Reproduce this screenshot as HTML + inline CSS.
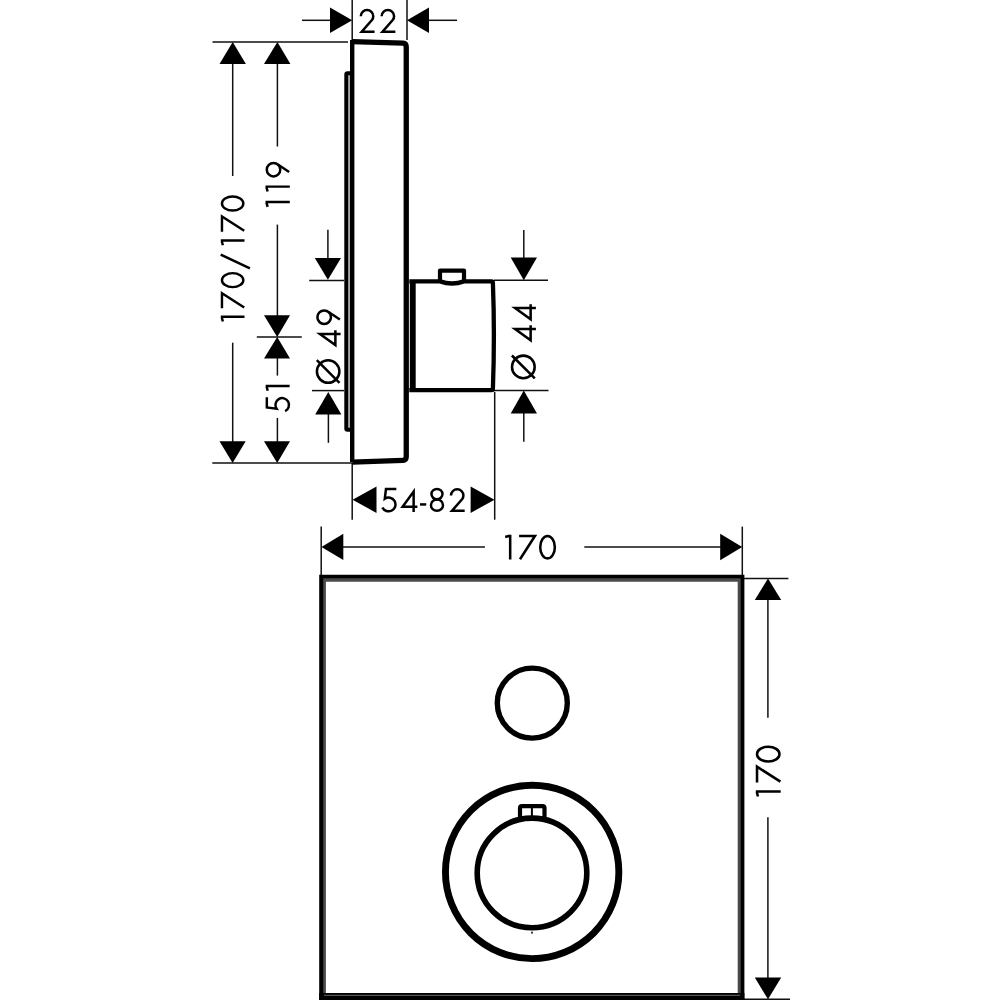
<!DOCTYPE html>
<html><head><meta charset="utf-8">
<style>
html,body{margin:0;padding:0;background:#fff;width:1000px;height:1000px;overflow:hidden}
svg{display:block}
text{font-family:"Liberation Sans",sans-serif;fill:#111}
</style></head>
<body>
<svg width="1000" height="1000" viewBox="0 0 1000 1000">
<rect width="1000" height="1000" fill="#fff"/>
<!-- thin dimension lines -->
<g stroke="#111" stroke-width="1.5" fill="none">
  <!-- 22 -->
  <line x1="352.2" y1="0" x2="352.2" y2="41"/>
  <line x1="407" y1="0" x2="407" y2="40"/>
  <line x1="302" y1="20.3" x2="331" y2="20.3"/>
  <line x1="428" y1="20.3" x2="457" y2="20.3"/>
  <!-- top & bottom extension -->
  <line x1="212.5" y1="42" x2="348" y2="42"/>
  <line x1="212.3" y1="463" x2="352" y2="463"/>
  <!-- 170/170 -->
  <line x1="232.7" y1="63" x2="232.7" y2="176"/>
  <line x1="232.7" y1="342.7" x2="232.7" y2="442"/>
  <!-- 119 / 51 -->
  <line x1="277.4" y1="63" x2="277.4" y2="146.5"/>
  <line x1="277.4" y1="224.6" x2="277.4" y2="316"/>
  <line x1="277.4" y1="358" x2="277.4" y2="375.6"/>
  <line x1="277.4" y1="418" x2="277.4" y2="442"/>
  <line x1="256.8" y1="337" x2="301.8" y2="337"/>
  <!-- O49 -->
  <line x1="327.9" y1="229.7" x2="327.9" y2="259"/>
  <line x1="328.4" y1="414" x2="328.4" y2="442.8"/>
  <line x1="309.2" y1="280.4" x2="344" y2="280.4"/>
  <line x1="312" y1="390.6" x2="344" y2="390.6"/>
  <!-- O44 -->
  <line x1="523.8" y1="229.9" x2="523.8" y2="259"/>
  <line x1="523.8" y1="412" x2="523.8" y2="441.8"/>
  <line x1="494" y1="280.2" x2="548" y2="280.2"/>
  <line x1="494" y1="390.4" x2="548.5" y2="390.4"/>
  <!-- 54-82 -->
  <line x1="352.2" y1="463" x2="352.2" y2="519.7"/>
  <line x1="494.7" y1="392" x2="494.7" y2="519.7"/>
  <!-- 170 horizontal -->
  <line x1="321.2" y1="526.5" x2="321.2" y2="576"/>
  <line x1="742.3" y1="526.6" x2="742.3" y2="576"/>
  <line x1="342" y1="547" x2="484.9" y2="547"/>
  <line x1="584.3" y1="547" x2="721" y2="547"/>
  <!-- 170 vertical -->
  <line x1="744" y1="578.5" x2="788.4" y2="578.5"/>
  <line x1="767.9" y1="599" x2="767.9" y2="717.8"/>
  <line x1="767.9" y1="817.2" x2="767.9" y2="978"/>
  <line x1="744" y1="999.3" x2="790" y2="999.3"/>
</g>
<!-- arrows -->
<g fill="#000">
  <polygon points="352.2,20.3 330,7.5 330,33"/>
  <polygon points="407,20.3 429,7.5 429,33"/>
  <polygon points="232.7,42 219.5,64 245.9,64"/>
  <polygon points="232.6,463 219.5,441.3 245.7,441.3"/>
  <polygon points="277.4,42 264,64 290.4,64"/>
  <polygon points="277.2,337 264,315.3 290,315.3"/>
  <polygon points="277.2,337 264,358.5 290,358.5"/>
  <polygon points="277.2,463 264,441.3 290,441.3"/>
  <polygon points="327.9,279.8 314.8,258 341,258"/>
  <polygon points="328.3,392 315.2,414.4 341.4,414.4"/>
  <polygon points="523.8,280.2 510.7,257.6 537,257.6"/>
  <polygon points="523.8,390.4 510.7,413.4 537,413.4"/>
  <polygon points="352.6,499.8 376.5,486.6 376.5,512.9"/>
  <polygon points="494.5,499.8 470.6,486.6 470.6,512.9"/>
  <polygon points="321.5,547 343.3,533.8 343.3,560"/>
  <polygon points="742.2,547 720.2,533.8 720.2,560.2"/>
  <polygon points="768,578.5 754.8,600 781.2,600"/>
  <polygon points="768,999.3 754.8,977.6 781.2,977.6"/>
</g>
<!-- side view panel -->
<g stroke="#000" fill="none" stroke-linejoin="round">
  <path d="M352.2,40 L352.2,462" stroke-width="4.4"/>
  <path d="M352.2,41.7 L403,43.2 Q406.25,43.4 406.25,47 L406.25,456.5 Q406.25,460.3 403,460.4 L352.2,462.1" stroke-width="5.3"/>
  <line x1="349.2" y1="75" x2="349.2" y2="428" stroke="#aaa" stroke-width="1.6"/>
  <path d="M352,73.3 L347.5,73.3 Q346.3,73.3 346.3,74.5 L346.3,428.5 Q346.3,429.8 347.5,429.8 L352,429.8" stroke-width="4"/>
  <!-- cylinder -->
  <path d="M412.75,281.6 L412.75,390.1" stroke-width="5.9"/>
  <path d="M409.3,281.4 L440,281.4 Q452,285.6 464,281.4 L491.5,281.4 Q492.9,281.4 492.9,283 Q494.9,335 492.9,388.5 Q492.9,390.2 491.5,390.2 L409.3,390.2" stroke-width="4.3"/>
  <path d="M440,281.4 L440,270.6 L464,270.6 L464,281.4" stroke-width="4.2" stroke-linejoin="round"/>
</g>
<!-- front view square -->
<g fill="none">
  <path d="M324.4,994.5 L324.4,580.3 L739.2,580.3 L739.2,994.5" stroke="#4a4a4a" stroke-width="3"/>
  <path d="M321.2,1003 L321.2,576.8 L742.4,576.8 L742.4,1003" stroke="#000" stroke-width="4"/>
  <rect x="319.2" y="993" width="425.2" height="7" fill="#000"/>
  <line x1="324" y1="995.3" x2="740" y2="995.3" stroke="#777" stroke-width="0.9"/>
  <circle cx="532.3" cy="703.1" r="35" stroke="#000" stroke-width="5.4"/>
  <circle cx="532.15" cy="871.9" r="86.7" stroke="#000" stroke-width="6.9"/>
  <circle cx="532" cy="872.9" r="54.8" stroke="#000" stroke-width="5.6"/>
  <path d="M520,817 L520,808 Q520,806.2 522,806.2 L542.5,806.2 Q544.5,806.2 544.5,808 L544.5,817" stroke="#000" stroke-width="4.2"/>
  <line x1="531.9" y1="807" x2="531.9" y2="819" stroke="#000" stroke-width="2"/>
  <circle cx="532" cy="932.7" r="1.1" fill="#333"/>
</g>
<!--TEXT-START-->
<g id="texts" fill="none" stroke="#000" stroke-width="2.50" stroke-linejoin="miter" stroke-miterlimit="6">
<g id="t1" transform="matrix(1.00000 0 0 1.00000 0.000 0.000)"><g transform="translate(359.5,32.9) scale(1.0041)"><path transform="translate(0.00,0)" d="M1.3,-16.6 A6.2,6.2 0 0 1 13.7,-16.6 A6.2,6.2 0 0 1 12.58,-13.04 L2.2,-1.2 H15"/><path transform="translate(20.72,0)" d="M1.3,-16.6 A6.2,6.2 0 0 1 13.7,-16.6 A6.2,6.2 0 0 1 12.58,-13.04 L2.2,-1.2 H15"/></g></g>
<g id="t2" transform="matrix(1.00000 0 0 1.00000 0.000 0.000)"><g transform="translate(244.5,321.6) rotate(-90) scale(0.9713)"><path transform="translate(0.00,0)" d="M0.1,-22.3 L4.4,-23.4 M5.0,-24.4 V0"/><path transform="translate(13.69,0)" d="M0,-23.2 H15.6 L0.9,-0.3"/><ellipse cx="42.68" cy="-12.20" rx="7.2" ry="11.0"/><path transform="translate(53.74,0)" d="M1,5.6 L15.3,-24.5"/><path transform="translate(78.55,0)" d="M0.1,-22.3 L4.4,-23.4 M5.0,-24.4 V0"/><path transform="translate(92.56,0)" d="M0,-23.2 H15.6 L0.9,-0.3"/><ellipse cx="121.55" cy="-12.20" rx="7.2" ry="11.0"/></g></g>
<g id="t3" transform="matrix(1.00000 0 0 1.00000 0.000 0.000)"><g transform="translate(289.8,207.0) rotate(-90) scale(0.9959)"><path transform="translate(0.00,0)" d="M0.1,-22.3 L4.4,-23.4 M5.0,-24.4 V0"/><path transform="translate(15.46,0)" d="M0.1,-22.3 L4.4,-23.4 M5.0,-24.4 V0"/><ellipse cx="37.47" cy="-16.35" rx="6.75" ry="6.75"/><path transform="translate(29.52,0)" d="M13.1,-12.0 L5.6,-0.7"/></g></g>
<g id="t4" transform="matrix(1.00000 0 0 1.00000 0.000 0.000)"><g transform="translate(289.65,412.6) rotate(-90) scale(0.9836)"><path transform="translate(0.00,0)" d="M15.6,-23.2 H5.2 L4.0,-13.3 A6.9,6.9 0 1 1 1.6,-4.6"/><path transform="translate(22.06,0)" d="M0.1,-22.3 L4.4,-23.4 M5.0,-24.4 V0"/></g></g>
<g id="t5" transform="matrix(1.00000 0 0 1.00000 0.000 0.000)"><g transform="translate(340.6,384.0) rotate(-90) scale(1.0041)"><ellipse cx="12.40" cy="-12.40" rx="11.2" ry="11.2"/><path transform="translate(0.00,0)" d="M1.1,-1.1 L23.7,-23.7"/><path transform="translate(37.35,0)" d="M12.5,0 V-20.6 L1.4,-5.2 H16.2"/><ellipse cx="66.51" cy="-16.35" rx="6.75" ry="6.75"/><path transform="translate(58.56,0)" d="M13.1,-12.0 L5.6,-0.7"/></g></g>
<g id="t6" transform="matrix(1.00000 0 0 1.00000 0.000 0.000)"><g transform="translate(535.9,379.5) rotate(-90) scale(1.0123)"><ellipse cx="12.40" cy="-12.40" rx="11.2" ry="11.2"/><path transform="translate(0.00,0)" d="M1.1,-1.1 L23.7,-23.7"/><path transform="translate(37.34,0)" d="M12.5,0 V-20.6 L1.4,-5.2 H16.2"/><path transform="translate(58.18,0)" d="M12.5,0 V-20.6 L1.4,-5.2 H16.2"/></g></g>
<g id="t7" transform="matrix(1.00000 0 0 1.00000 0.000 0.000)"><g transform="translate(380.8,512.0) scale(0.9959)"><path transform="translate(0.00,0)" d="M15.6,-23.2 H5.2 L4.0,-13.3 A6.9,6.9 0 1 1 1.6,-4.6"/><path transform="translate(20.48,0)" d="M12.5,0 V-20.6 L1.4,-5.2 H16.2"/><path transform="translate(39.36,0)" d="M0,-7.6 H6.25"/><ellipse cx="56.40" cy="-18.00" rx="5.55" ry="5.2"/><ellipse cx="56.40" cy="-6.90" rx="6.05" ry="5.7"/><path transform="translate(69.23,0)" d="M1.3,-16.6 A6.2,6.2 0 0 1 13.7,-16.6 A6.2,6.2 0 0 1 12.58,-13.04 L2.2,-1.2 H15"/></g></g>
<g id="t8" transform="matrix(1.00000 0 0 1.00000 0.000 0.000)"><g transform="translate(505.1,559.6) scale(1.0164)"><path transform="translate(0.00,0)" d="M0.1,-22.3 L4.4,-23.4 M5.0,-24.4 V0"/><path transform="translate(13.77,0)" d="M0,-23.2 H15.6 L0.9,-0.3"/><ellipse cx="41.75" cy="-12.20" rx="7.2" ry="11.0"/></g></g>
<g id="t9" transform="matrix(1.00000 0 0 1.00000 0.000 0.000)"><g transform="translate(780.7,796.6) rotate(-90) scale(1.0205)"><path transform="translate(0.00,0)" d="M0.1,-22.3 L4.4,-23.4 M5.0,-24.4 V0"/><path transform="translate(13.72,0)" d="M0,-23.2 H15.6 L0.9,-0.3"/><ellipse cx="41.62" cy="-12.20" rx="7.2" ry="11.0"/></g></g>
</g>
<!--TEXT-END-->
</svg>
</body></html>
